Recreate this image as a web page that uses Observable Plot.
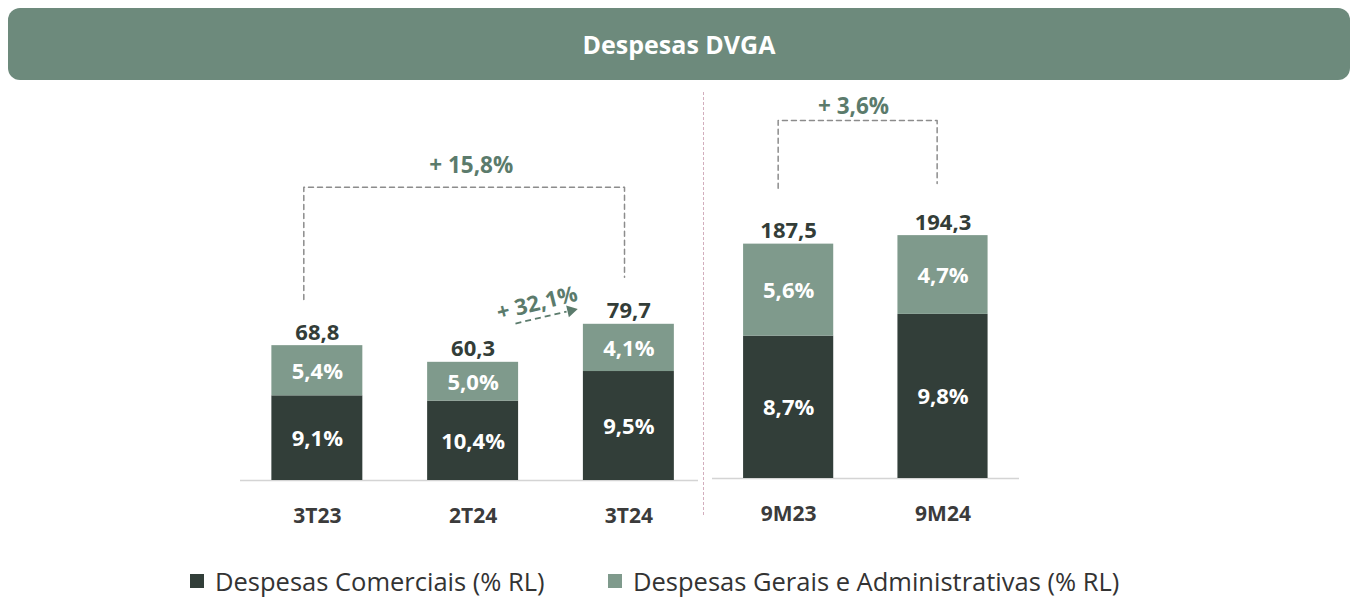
<!DOCTYPE html>
<html>
<head>
<meta charset="utf-8">
<script src="https://cdn.jsdelivr.net/npm/d3@7"></script>
<script src="https://cdn.jsdelivr.net/npm/@observablehq/plot@0.6"></script>
<style>
  html, body { margin: 0; padding: 0; background: #fff; }
  #page { position: relative; width: 1355px; height: 597px; overflow: hidden; font-family: "Open Sans", Lato, sans-serif; }
  #banner { position: absolute; left: 8px; top: 8px; width: 1342px; height: 72px; background: #6d8a7c; border-radius: 12px;
            color: #fff; font-weight: bold; font-size: 25px; display: flex; align-items: center; justify-content: center; }
  .panel { position: absolute; left: 0; top: 0; }
  #sep { position: absolute; left: 703px; top: 92px; height: 423px; border-left: 1.5px dashed #d3aebd; }
  #legend { position: absolute; top: 566px; left: 0; width: 1355px; height: 30px; font-size: 25.5px; color: #333; }
  .item { position: absolute; top: 0; display: flex; align-items: center; height: 30px; }
  .sw { width: 14px; height: 14px; margin-right: 11px; }
</style>
</head>
<body>
<div id="page">
  <div id="banner">Despesas DVGA</div>
  <div id="sep"></div>
  <div id="legend"></div>
</div>
<script>
// ---- data ----
const series = ["Despesas Comerciais (% RL)", "Despesas Gerais e Administrativas (% RL)"];
const colors = ["#323e39", "#7f9a8c"];

const categoriesQ = ["3T23", "2T24", "3T24"];
const comerciaisQ = [43.2, 40.5, 55.6];
const geraisQ = [25.6, 19.8, 24.1];
const totalQ = [68.8, 60.3, 79.7];
const pctComQ = ["9,1%", "10,4%", "9,5%"];
const pctGerQ = ["5,4%", "5,0%", "4,1%"];

const categoriesM = ["9M23", "9M24"];
const comerciaisM = [113.9, 131.3];
const geraisM = [73.6, 63.0];
const totalM = [187.5, 194.3];
const pctComM = ["8,7%", "9,8%"];
const pctGerM = ["5,6%", "4,7%"];

// annotations (data coordinates: x = category index, y = value)
const bracketQ = [{x: -0.087, y: 92.3}, {x: -0.087, y: 149.6}, {x: 1.972, y: 149.6}, {x: 1.972, y: 103.7}];
const bracketQLabel = {x: 0.988, y: 160.7, text: "+ 15,8%"};
const arrowQ = {x1: 1.272, y1: 80.1, x2: 1.60, y2: 86.2, hx: 1.628, hy: 86.7};
const arrowQLabel = {x: 1.411, y: 90.3, text: "+ 32,1%"};
const bracketM = [{x: -0.068, y: 232.2}, {x: -0.068, y: 286.4}, {x: 0.962, y: 286.4}, {x: 0.962, y: 236}];
const bracketMLabel = {x: 0.42, y: 297.6, text: "+ 3,6%"};

const fmt = v => v.toFixed(1).replace(".", ",");
const green = "#5b7b6c";

function rowsOf(cats, com, ger, pc, pg) {
  const rows = [];
  cats.forEach((c, i) => {
    rows.push({i, cat: c, series: series[0], y1: 0, y2: com[i], label: pc[i]});
    rows.push({i, cat: c, series: series[1], y1: com[i], y2: com[i] + ger[i], label: pg[i]});
  });
  return rows;
}

function panel({cats, com, ger, tot, pc, pg, xDomain, x0, x1, base, pxPerUnit, bracket, bracketLabel, extra = []}) {
  const rows = rowsOf(cats, com, ger, pc, pg);
  const totals = cats.map((c, i) => ({i, total: tot[i]}));
  const hw = 0.292;
  const W = 1355, H = 597;
  return Plot.plot({
    width: W, height: H,
    marginLeft: x0, marginRight: W - x1, marginTop: 0, marginBottom: H - base,
    style: {fontFamily: "'Open Sans', Lato, sans-serif", color: "#3b3b3b", background: "transparent", overflow: "visible"},
    x: {type: "linear", domain: xDomain, range: [x0, x1]},
    y: {domain: [0, 100], range: [base, base - 100 * pxPerUnit], axis: null},
    color: {domain: series, range: colors},
    marks: [
      Plot.ruleY([0], {stroke: "#d4d4d4", strokeWidth: 1.5}),
      Plot.rectY(rows, {x1: d => d.i - hw, x2: d => d.i + hw, y1: "y1", y2: "y2", fill: "series"}),
      Plot.text(rows, {x: "i", y: d => (d.y1 + d.y2) / 2, text: "label", fill: "white", fontWeight: "bold", fontSize: 22, dy: 1}),
      Plot.text(totals, {x: "i", y: "total", text: d => fmt(d.total), fill: "#333d38", fontWeight: "bold", fontSize: 22, dy: -13}),
      Plot.axisX({ticks: cats.map((c, i) => i), tickFormat: i => cats[i], tickSize: 0, tickPadding: 28, fontSize: 21, fontWeight: "bold", label: null}),
      Plot.line(bracket, {x: "x", y: "y", stroke: "#8c8c8c", strokeWidth: 1.5, strokeDasharray: "5,4"}),
      Plot.text([bracketLabel], {x: "x", y: "y", text: "text", fill: green, fontWeight: "bold", fontSize: 22.5}),
      ...extra
    ]
  });
}

const left = panel({
  cats: categoriesQ, com: comerciaisQ, ger: geraisQ, tot: totalQ, pc: pctComQ, pg: pctGerQ,
  xDomain: [-0.4934, 2.447], x0: 240, x1: 698, base: 480, pxPerUnit: 1.96,
  bracket: bracketQ, bracketLabel: bracketQLabel,
  extra: [
    Plot.link([arrowQ], {x1: "x1", y1: "y1", x2: "x2", y2: "y2", stroke: green, strokeWidth: 1.8, strokeDasharray: "6,4"}),
    Plot.dot([arrowQ], {x: "hx", y: "hy", symbol: "triangle", r: 4.5, fill: green, rotate: 77}),
    Plot.text([arrowQLabel], {x: "x", y: "y", text: "text", fill: green, fontWeight: "bold", fontSize: 22, rotate: -14})
  ]
});
const right = panel({
  cats: categoriesM, com: comerciaisM, ger: geraisM, tot: totalM, pc: pctComM, pg: pctGerM,
  xDomain: [-0.4934, 1.4956], x0: 712, x1: 1019, base: 478, pxPerUnit: 1.25,
  bracket: bracketM, bracketLabel: bracketMLabel
});
left.classList.add("panel");
right.classList.add("panel");
const page = document.getElementById("page");
page.appendChild(left);
page.appendChild(right);

// legend
const legend = document.getElementById("legend");
const lefts = [190, 608];
series.forEach((s, k) => {
  const it = document.createElement("div");
  it.className = "item";
  it.style.left = lefts[k] + "px";
  const sw = document.createElement("div");
  sw.className = "sw";
  sw.style.background = colors[k];
  const tx = document.createElement("span");
  tx.textContent = s;
  it.appendChild(sw);
  it.appendChild(tx);
  legend.appendChild(it);
});
</script>
</body>
</html>
